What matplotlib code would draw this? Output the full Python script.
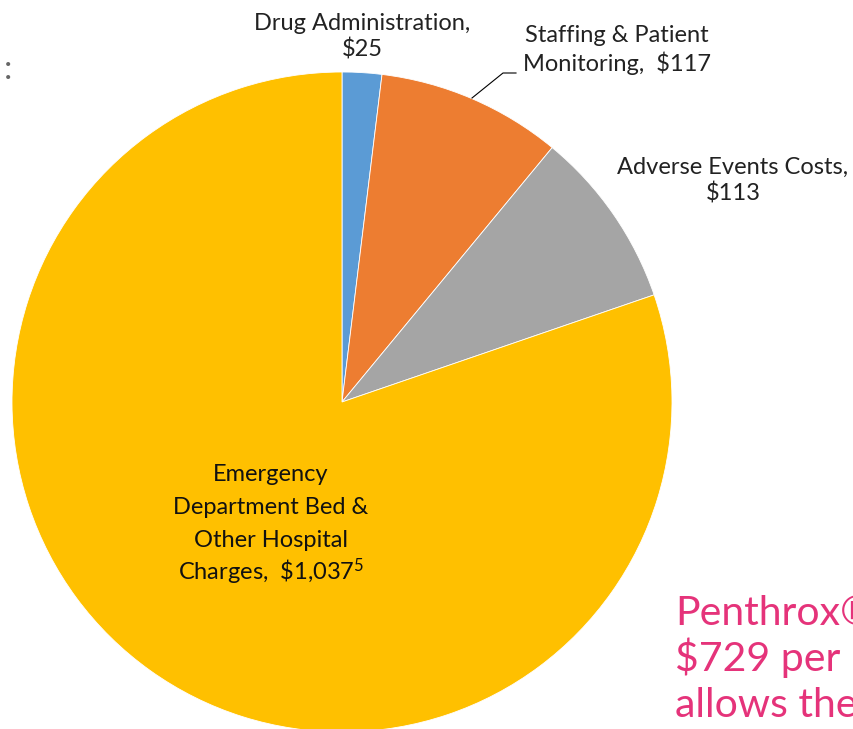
import matplotlib.pyplot as plt

W, H = 854, 729

labels = ["Drug Administration,\n\\$25",
          "Staffing & Patient\nMonitoring,  \\$117",
          "Adverse Events Costs,\n\\$113"]
ed_lines = ["Emergency", "Department Bed &", "Other Hospital",
            "Charges,  \\$1,037$^{5}$"]
values = [25, 117, 113, 1037]
colors = ["#5B9BD5", "#ED7D31", "#A5A5A5", "#FFC000"]
note_lines = ["Penthrox\u00ae", "\\$729 per", "allows the"]

plt.rcParams['font.family'] = ['Lato', 'DejaVu Sans']
plt.rcParams['mathtext.default'] = 'regular'
plt.rcParams['mathtext.fontset'] = 'custom'
plt.rcParams['mathtext.rm'] = 'Lato'

fig = plt.figure(figsize=(W / 100, H / 100), dpi=100)
ax = fig.add_axes([0, 0, 1, 1])
ax.pie(values, colors=colors, startangle=90, counterclock=False,
       center=(342, H - 402), radius=330,
       wedgeprops=dict(linewidth=0.6, edgecolor="white"))
ax.set_xlim(0, W)
ax.set_ylim(0, H)
ax.set_aspect('equal')
ax.set_axis_off()

fs = 17
ax.text(362, H - 37, labels[0], ha="center", va="center", fontsize=fs,
        linespacing=1.27, color="#222222")
ax.text(617, H - 50, labels[1], ha="center", va="center", fontsize=fs,
        linespacing=1.27, color="#222222")
ax.plot([472, 503, 516], [H - 98, H - 73, H - 73], color="black", lw=0.8)
ax.text(733, H - 181, labels[2], ha="center", va="center", fontsize=fs,
        linespacing=1.27, color="#222222")
for i, line in enumerate(ed_lines):
    ax.text(271, H - 481 - 33 * i, line, ha="center", va="baseline",
            fontsize=fs, color="#111111")

for i, line in enumerate(note_lines):
    ax.text(675, H - 625 - 46 * i, line, ha="left", va="baseline",
            fontsize=29.5, color="#E5337A")
ax.text(4, H - 70, ":", ha="left", va="center", fontsize=24, color="#666666")

fig.savefig("out.png", dpi=100)
